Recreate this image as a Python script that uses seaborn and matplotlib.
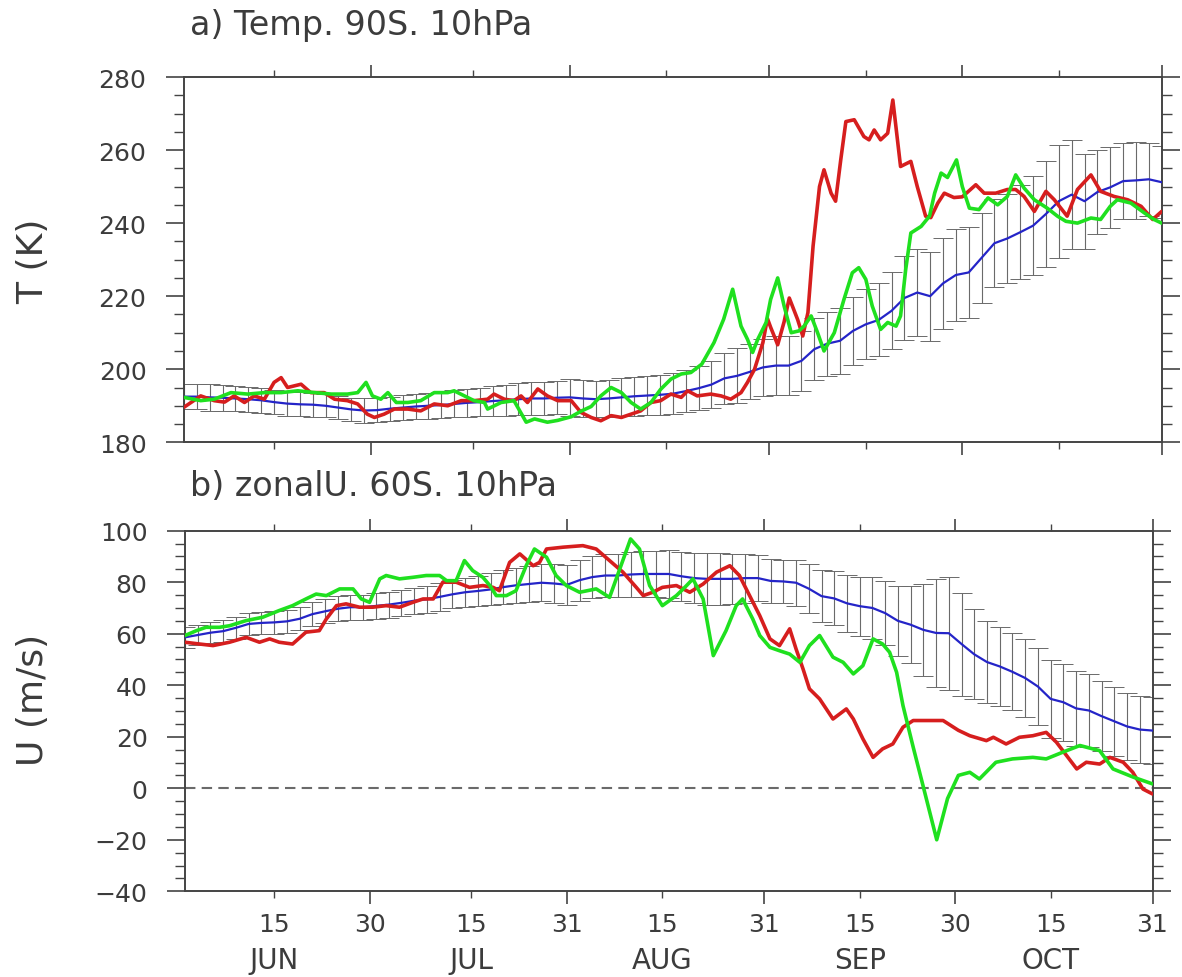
import numpy as np
import pandas as pd
import matplotlib
matplotlib.use("Agg")
import matplotlib.pyplot as plt
import matplotlib.transforms as mtransforms
from matplotlib.ticker import FixedLocator, FixedFormatter, MultipleLocator, NullFormatter
import seaborn as sns

sns.set_theme(style="ticks")
plt.rcParams['font.family'] = ['DejaVu Sans']

# ---------------- data (day 0 = 1 Jun ... day 152 = 31 Oct) ----------------
grid_days = list(range(0, 153, 2))

t_mean = [192.5, 192.5, 192.3, 192.2, 192.0, 191.8, 191.5, 191.0, 190.6, 190.4,
          190.3, 190.0, 189.5, 189.0, 188.7, 188.8, 189.2, 189.5, 189.8, 190.0,
          190.2, 190.5, 190.8, 191.0, 191.3, 191.5, 191.8, 192.0, 192.0, 192.2,
          192.3, 192.0, 191.8, 192.0, 192.3, 192.6, 192.8, 193.0, 193.3, 194.0,
          194.8, 195.8, 197.5, 198.2, 199.3, 200.5, 201.0, 201.0, 202.3, 205.5,
          207.0, 207.8, 210.5, 212.3, 213.5, 216.0, 219.5, 221.0, 220.0, 223.5,
          225.8, 226.5, 230.5, 234.5, 235.8, 237.5, 239.3, 242.5, 246.0, 247.8,
          246.0, 248.5, 249.8, 251.5, 251.7, 252.0, 251.2]
t_std = [3.5, 3.5, 3.6, 3.6, 3.5, 3.4, 3.4, 3.3, 3.3, 3.3,
         3.3, 3.2, 3.2, 3.2, 3.3, 3.3, 3.3, 3.4, 3.4, 3.5,
         3.6, 3.7, 3.8, 3.9, 4.0, 4.2, 4.3, 4.4, 4.5, 4.5,
         5.0, 5.0, 5.0, 5.1, 5.2, 5.3, 5.4, 5.5, 5.6, 5.8,
         6.0, 6.5, 7.0, 7.5, 7.5, 7.8, 8.0, 8.0, 8.2, 8.5,
         8.8, 9.0, 9.3, 9.6, 10.0, 10.5, 11.5, 12.0, 12.2, 12.4,
         12.5, 12.5, 12.3, 12.0, 12.2, 12.8, 13.5, 14.5, 15.5, 15.0,
         13.0, 11.5, 11.0, 10.5, 10.5, 10.0, 9.8]

t_red_day = [0, 2.6, 4.7, 6.3, 7.8, 9.4, 10.9, 12.5, 14, 15.1, 16.1, 18.2, 19.7, 21.8, 23.4,
             25.4, 27, 28.5, 29.6, 31.1, 32.7, 34.8, 36.8, 38.9, 41, 43.1, 45.1, 47.2, 48.2,
             49.8, 51.3, 52.4, 53.4, 55, 56.5, 58.1, 60.2, 61.7, 63.3, 64.8, 66.4, 68, 69.5,
             71, 72.6, 74.1, 75.7, 77.3, 78.3, 79.8, 81.9, 83.5, 85, 86.6, 87.6, 88.7, 90,
             90.7, 91.2, 92.3, 93.3, 94.1, 95.4, 96.2, 97, 97.8, 98.8, 99.5, 100.6, 101.3,
             102.1, 102.9, 104.2, 105.7, 106.5, 107.3, 108.3, 109.4, 110.2, 111.4, 113, 114,
             115.3, 116.1, 117.2, 118.2, 119.7, 121, 123.1, 124.4, 126.2, 128, 129.3, 130.6,
             132.2, 134, 135.3, 137.3, 138.9, 141, 142.5, 144.6, 146.7, 148.8, 150.6, 152]
t_red = [189.6, 192.7, 191.4, 191.0, 192.7, 190.9, 192.7, 191.8, 196.4, 197.7, 195.0, 195.9,
         193.6, 193.6, 191.8, 191.4, 190.5, 187.7, 186.8, 187.7, 189.1, 189.1, 188.6, 190.5,
         190.0, 191.4, 191.4, 191.8, 193.2, 191.8, 191.4, 192.7, 190.9, 194.6, 192.7, 191.4,
         191.4, 188.2, 186.8, 185.9, 187.3, 186.8, 187.7, 188.6, 190.9, 191.4, 193.2, 192.3,
         194.1, 192.7, 193.2, 192.7, 191.8, 193.6, 196.4, 200.0, 207.3, 213.9, 211.5, 206.7,
         213.0, 219.5, 213.6, 209.1, 215.5, 233.7, 250.0, 254.6, 248.2, 246.0, 257.3, 267.8,
         268.3, 263.7, 262.8, 265.5, 262.8, 264.6, 273.7, 255.5, 256.9, 250.0, 241.9, 241.5,
         245.5, 248.2, 247.0, 247.2, 250.5, 248.2, 248.2, 249.2, 249.2, 247.3, 243.2, 248.7,
         246.4, 241.9, 249.2, 253.2, 248.7, 247.3, 246.4, 244.6, 241.0, 243.2]

t_green_day = [0, 2.6, 4.7, 7.3, 9.9, 12.5, 15.1, 17.7, 20.3, 22.9, 25.4, 27, 28.3, 29.3, 30.6,
               31.7, 33, 34.8, 36.8, 38.9, 41, 42, 43.6, 45.1, 46.7, 47.2, 49.3, 51.3, 53.2,
               54.5, 56.5, 58.1, 60.2, 61.7, 63.3, 64.8, 66.4, 68, 69.5, 71, 72.6, 74.1, 75.7,
               77.3, 78.8, 80.5, 82.4, 83.9, 85.3, 86.6, 87.6, 88.4, 89.2, 90.5, 91.2, 92.3,
               93.3, 94.4, 95.6, 96.4, 97.5, 98.5, 99.5, 101.1, 102.6, 103.9, 104.9, 106, 107,
               108.3, 109.4, 110.7, 111.4, 112.2, 113, 114.6, 115.9, 116.7, 117.7, 118.7, 120.1,
               121, 122.1, 123.6, 125, 126.5, 128, 129.3, 130.6, 132.2, 134.2, 135.8, 137.1,
               138.9, 141, 142.5, 144, 145.1, 147.2, 149.3, 150.8, 152]
t_green = [192.3, 191.4, 191.8, 193.6, 193.2, 193.6, 193.6, 194.1, 193.6, 193.2, 193.2, 193.6,
           196.4, 192.7, 191.8, 193.6, 190.9, 190.9, 191.4, 193.6, 193.6, 194.1, 192.7, 191.4,
           190.9, 189.1, 190.9, 191.4, 185.5, 186.4, 185.5, 186.0, 187.0, 188.5, 189.8, 192.7,
           195.0, 193.6, 190.9, 189.1, 190.9, 194.5, 197.3, 198.7, 199.1, 201.4, 207.3, 213.7,
           221.9, 211.8, 208.2, 204.6, 208.2, 212.8, 219.1, 225.0, 217.3, 210.0, 210.5, 211.8,
           214.6, 210.0, 205.0, 210.0, 219.1, 226.4, 227.8, 224.6, 217.3, 210.9, 212.8, 211.8,
           214.6, 227.3, 237.3, 239.1, 241.9, 248.2, 253.7, 252.5, 257.3, 250.0, 244.1, 243.7,
           246.9, 245.0, 247.3, 253.2, 249.6, 246.4, 244.1, 241.9, 240.5, 240.0, 241.4, 241.0,
           244.6, 246.4, 245.5, 242.8, 241.0, 240.0]

u_mean = [58.6, 59.5, 60.4, 61.0, 62.3, 63.8, 64.2, 64.4, 64.8, 65.8,
          67.6, 68.7, 69.7, 70.3, 70.3, 70.8, 71.3, 72.0, 72.8, 73.4,
          74.3, 75.3, 76.1, 76.6, 77.2, 78.1, 78.8, 79.3, 79.8, 79.5,
          79.0, 80.8, 82.0, 82.6, 82.6, 83.0, 83.2, 83.2, 83.2, 82.3,
          81.6, 81.3, 81.3, 81.3, 81.6, 81.6, 80.5, 80.3, 79.8, 77.5,
          74.6, 73.7, 71.8, 70.7, 70.0, 68.0, 65.0, 63.5, 61.5, 60.3,
          60.2, 56.0, 52.0, 49.0, 47.3, 45.2, 42.8, 39.5, 34.7, 33.4,
          31.0, 30.2, 28.0, 26.0, 24.0, 22.8, 22.4]
u_std = [4.0, 4.0, 4.0, 4.2, 4.2, 4.3, 4.4, 4.5, 4.5, 4.5,
         4.6, 4.7, 4.8, 4.8, 4.9, 5.0, 5.0, 5.0, 5.1, 5.2,
         5.3, 5.5, 5.7, 6.0, 6.2, 6.5, 6.8, 7.0, 7.2, 7.5,
         7.8, 8.0, 8.3, 8.5, 8.5, 8.6, 8.8, 9.0, 9.2, 9.5,
         9.7, 10.0, 10.0, 9.8, 9.5, 9.0, 8.5, 8.5, 9.0, 9.5,
         10.0, 10.5, 11.0, 11.5, 12.0, 12.5, 13.5, 15.0, 18.0, 21.0,
         22.0, 20.0, 17.5, 16.0, 15.5, 15.0, 15.0, 15.0, 15.0, 15.0,
         14.5, 14.0, 13.5, 13.5, 13.0, 13.0, 13.0]

u_red_day = [0, 2.3, 4.4, 7, 9.6, 11.7, 13.3, 14.8, 16.9, 19, 21.1, 22.2, 23.8, 25.3, 27.4,
             29.5, 31.6, 33.7, 35.8, 37.4, 39, 40.5, 42.6, 44.7, 46.8, 48.4, 49.4, 51, 52.6,
             54.7, 55.7, 56.8, 59.4, 62.5, 64.6, 66.7, 68.8, 70.9, 72, 73.5, 75, 77.2, 79.3,
             81.4, 83.5, 85.6, 87.1, 88.7, 90.3, 91.9, 93.4, 95, 96, 97.1, 98.1, 99.7, 101.8,
             103.9, 105, 106.5, 108.1, 109.6, 111.2, 112.8, 114.4, 117, 119.1, 121.5, 123.3,
             125.9, 127, 129, 131.1, 133.2, 135.3, 136.9, 138.5, 140.1, 141.6, 143.7, 145.3,
             147.4, 148.9, 150.5, 152]
u_red = [56.7, 56.0, 55.4, 56.7, 58.6, 56.7, 58.0, 56.7, 56.0, 60.6, 61.2, 65.7, 70.9, 71.6,
         70.3, 70.3, 70.9, 70.3, 72.2, 73.5, 73.5, 80.0, 80.0, 78.0, 78.7, 78.0, 76.7, 87.7,
         91.0, 86.4, 87.7, 92.9, 93.6, 94.2, 92.9, 88.4, 83.9, 78.0, 74.8, 76.1, 78.0, 78.7,
         76.1, 79.3, 83.9, 86.4, 82.6, 74.8, 67.0, 58.0, 55.4, 61.9, 54.1, 46.3, 38.6, 34.7,
         26.9, 30.8, 26.9, 19.2, 12.0, 15.3, 17.2, 23.7, 26.3, 26.3, 26.3, 22.5, 20.4, 18.5,
         19.8, 17.2, 19.8, 20.4, 21.7, 17.9, 12.7, 7.5, 10.1, 9.4, 12.0, 10.1, 6.2, -0.3, -2.2]

u_green_day = [0, 1.8, 3.3, 5.4, 7, 9.6, 12.2, 14.8, 16.9, 19, 20.6, 22.2, 24.3, 26.4, 27.7,
               29, 30.6, 31.6, 33.7, 35.8, 37.9, 40, 41.1, 42.6, 43.9, 45.2, 46.8, 47.9, 48.9,
               50.5, 52, 53.6, 54.9, 56.8, 58.3, 59.9, 62, 64.6, 66.7, 68.3, 70, 71.4, 73, 75,
               77.2, 78.8, 79.8, 81.4, 83, 85, 86.6, 87.6, 89.2, 90.3, 91.9, 93.4, 95, 96.6,
               98.1, 99.7, 101.8, 103.4, 105, 106.5, 108.1, 109.6, 110.7, 111.8, 112.8, 114.4,
               116, 118.1, 119.8, 121.5, 123.3, 124.8, 127.4, 130, 133.2, 135.3, 138.5, 140.6,
               143.7, 145.8, 149, 152]
u_green = [59.3, 61.2, 62.5, 62.5, 63.1, 65.1, 66.4, 69.0, 70.9, 73.5, 75.4, 74.8, 77.4, 77.4,
           73.5, 72.2, 81.3, 82.6, 81.3, 81.9, 82.6, 82.6, 80.6, 80.6, 88.4, 84.5, 81.9, 78.7,
           74.8, 74.8, 76.7, 86.4, 92.9, 89.7, 82.6, 78.7, 76.1, 77.4, 74.1, 85.1, 96.8, 92.9,
           78.7, 70.9, 74.8, 78.7, 81.3, 73.5, 51.5, 61.2, 70.9, 73.5, 65.7, 59.3, 54.7, 53.4,
           52.1, 48.9, 55.4, 59.3, 50.9, 48.9, 44.4, 47.6, 58.0, 56.0, 52.8, 45.0, 32.1, 16.0,
           0.5, -20.0, -4.0, 5.0, 6.2, 3.6, 10.1, 11.4, 12.0, 11.4, 14.6, 16.6, 14.6, 7.5, 4.3, 1.7]

month_end_days = [29, 60, 91, 121, 152]
month_end_labels = ["30", "31", "31", "30", "31"]
mid_days = [14, 45, 75, 106, 136]
mid_labels = ["15", "15", "15", "15", "15"]
month_names = ["JUN", "JUL", "AUG", "SEP", "OCT"]

# ---------------- styling ----------------
TXT = '#3c3c3c'
AXC = '#444444'
RED = '#d61e1e'
GREEN = '#1fe01f'
BLUE = '#2424c8'
BAR = '#6a6a6a'

fig = plt.figure(figsize=(11.82, 9.78), dpi=100)
W, H = 1182.0, 978.0
ax1 = fig.add_axes([184 / W, 1 - 443.3 / H, 977.7 / W, 365.3 / H])
ax2 = fig.add_axes([185 / W, 1 - 892.3 / H, 967.5 / W, 360.6 / H])


def draw_panel(ax, mean, std, rday, rval, gday, gval):
    ax.errorbar(grid_days, mean, yerr=std, fmt='none', ecolor=BAR, elinewidth=0.8,
                capsize=7, capthick=0.7, zorder=1)
    sns.lineplot(x=grid_days, y=mean, ax=ax, color=BLUE, lw=1.6, zorder=3)
    sns.lineplot(x=rday, y=rval, ax=ax, color=RED, lw=2.6, zorder=4)
    sns.lineplot(x=gday, y=gval, ax=ax, color=GREEN, lw=2.6, zorder=5)


draw_panel(ax1, t_mean, t_std, t_red_day, t_red, t_green_day, t_green)
draw_panel(ax2, u_mean, u_std, u_red_day, u_red, u_green_day, u_green)
ax2.axhline(0, color='#6a6a6a', ls=(0, (5, 3)), lw=1.5, zorder=2)

for ax, (lo, hi) in ((ax1, (180, 280)), (ax2, (-40, 100))):
    ax.set_xlim(0, 152)
    ax.set_ylim(lo, hi)
    ax.set_xlabel('')
    ax.set_ylabel('')
    for s in ax.spines.values():
        s.set_color(AXC)
        s.set_linewidth(1.4)
    ax.xaxis.set_major_locator(FixedLocator(month_end_days))
    ax.xaxis.set_minor_locator(FixedLocator(mid_days))
    ax.yaxis.set_major_locator(MultipleLocator(20))
    ax.yaxis.set_minor_locator(MultipleLocator(5))
    ax.tick_params(axis='both', which='both', direction='out', top=True, right=True,
                   color=AXC, labelcolor=TXT, labelsize=18)
    ax.tick_params(axis='y', which='major', length=13, width=1.2, pad=14)
    ax.tick_params(axis='y', which='minor', length=7, width=1.0)
    ax.tick_params(axis='x', which='major', length=9, width=1.2, pad=6)
    ax.tick_params(axis='x', which='minor', length=5, width=1.0, pad=10)
    ax.grid(False)

ax1.xaxis.set_major_formatter(NullFormatter())
ax1.xaxis.set_minor_formatter(NullFormatter())
ax2.xaxis.set_major_formatter(FixedFormatter(month_end_labels))
ax2.xaxis.set_minor_formatter(FixedFormatter(mid_labels))

trans = mtransforms.blended_transform_factory(ax2.transData, ax2.transAxes)
for d, name in zip(mid_days, month_names):
    ax2.text(d, -0.19, name, transform=trans, ha='center', va='center',
             fontsize=20, color=TXT)

fig.text(190 / W, 1 - 25 / H, "a) Temp. 90S. 10hPa", ha='left', va='center',
         fontsize=24, color=TXT)
fig.text(190 / W, 1 - 487 / H, "b) zonalU. 60S. 10hPa", ha='left', va='center',
         fontsize=24, color=TXT)
fig.text(33 / W, 1 - 261 / H, "T (K)", rotation=90, ha='center', va='center',
         fontsize=26, color=TXT)
fig.text(33 / W, 1 - 700 / H, "U (m/s)", rotation=90, ha='center', va='center',
         fontsize=26, color=TXT)

fig.savefig("out.png", dpi=100, facecolor='white')
